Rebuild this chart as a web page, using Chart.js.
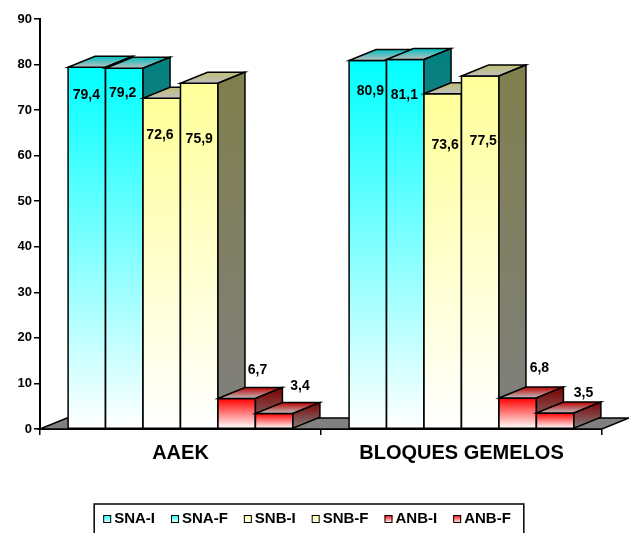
<!DOCTYPE html>
<html>
<head>
<meta charset="utf-8">
<script src="https://cdn.jsdelivr.net/npm/chart.js@4.4.1/dist/chart.umd.min.js"></script>
<style>
html,body{margin:0;padding:0;background:#fff;overflow:hidden;}
#wrap{width:629px;height:533px;position:relative;}
canvas{display:block;}
</style>
</head>
<body>
<div id="wrap"><canvas id="c" width="629" height="533"></canvas></div>
<script>
// ---------- data ----------
const categories = ['AAEK', 'BLOQUES GEMELOS'];
const seriesNames = ['SNA-I', 'SNA-F', 'SNB-I', 'SNB-F', 'ANB-I', 'ANB-F'];
const snaI = [79.4, 80.9];
const snaF = [79.2, 81.1];
const snbI = [72.6, 73.6];
const snbF = [75.9, 77.5];
const anbI = [6.7, 6.8];
const anbF = [3.4, 3.5];
const yTickValues = [0, 10, 20, 30, 40, 50, 60, 70, 80, 90];

// ---------- style ----------
const seriesValues = [snaI, snaF, snbI, snbF, anbI, anbF];
const topColors = ['#00FFFF', '#00FFFF', '#FFFF99', '#FFFF99', '#FF0000', '#FF0000'];
const bottomColor = '#FFFFFF';
// label offsets (pixels) relative to bar centre / bar top, per series per category
const labelDx = [[-0.5, 2.5], [-1.6, -1], [-1.8, 2.4], [0, 3], [20.8, 21.7], [25.8, 28.3]];
const labelDy = [[27.7, 30.6], [25.3, 35.5], [37, 51], [55.7, 65], [-28.5, -30.3], [-27.8, -20]];
const DEPTH_X = 27, DEPTH_Y = -11;
const FONT = "'Liberation Sans', Arial, Helvetica, sans-serif";

function shade(hex, f) {
  const n = parseInt(hex.slice(1), 16);
  const r = Math.round(((n >> 16) & 255) * f);
  const g = Math.round(((n >> 8) & 255) * f);
  const b = Math.round((n & 255) * f);
  return 'rgb(' + r + ',' + g + ',' + b + ')';
}
function fmt(v) { return v.toFixed(1).replace('.', ','); }

function drawBar3D(ctx, L, R, T, B, cTop) {
  ctx.lineWidth = 1.5;
  ctx.strokeStyle = '#000';
  ctx.lineJoin = 'miter';
  // front face
  let g = ctx.createLinearGradient(0, T, 0, B);
  g.addColorStop(0, cTop); g.addColorStop(1, bottomColor);
  ctx.fillStyle = g;
  ctx.beginPath(); ctx.rect(L, T, R - L, B - T); ctx.fill(); ctx.stroke();
  // top face
  g = ctx.createLinearGradient(0, T + DEPTH_Y, 0, T);
  g.addColorStop(0, shade(cTop, 0.75)); g.addColorStop(1, shade(bottomColor, 0.75));
  ctx.fillStyle = g;
  ctx.beginPath();
  ctx.moveTo(L, T); ctx.lineTo(L + DEPTH_X, T + DEPTH_Y);
  ctx.lineTo(R + DEPTH_X, T + DEPTH_Y); ctx.lineTo(R, T); ctx.closePath();
  ctx.fill(); ctx.stroke();
  // side face
  g = ctx.createLinearGradient(0, T + DEPTH_Y, 0, B);
  g.addColorStop(0, shade(cTop, 0.5)); g.addColorStop(1, shade(bottomColor, 0.5));
  ctx.fillStyle = g;
  ctx.beginPath();
  ctx.moveTo(R, T); ctx.lineTo(R + DEPTH_X, T + DEPTH_Y);
  ctx.lineTo(R + DEPTH_X, B + DEPTH_Y); ctx.lineTo(R, B); ctx.closePath();
  ctx.fill(); ctx.stroke();
}

const bars3d = {
  id: 'bars3d',
  beforeDatasetsDraw(chart) {
    const ctx = chart.ctx, area = chart.chartArea;
    const B = chart.scales.y.getPixelForValue(0);
    ctx.save();
    ctx.fillStyle = '#808080';
    ctx.strokeStyle = '#000';
    ctx.lineWidth = 1.5;
    ctx.beginPath();
    ctx.moveTo(area.left, B);
    ctx.lineTo(area.left + DEPTH_X, B + DEPTH_Y);
    ctx.lineTo(area.right + DEPTH_X, B + DEPTH_Y);
    ctx.lineTo(area.right, B);
    ctx.closePath();
    ctx.fill(); ctx.stroke();
    ctx.restore();
  },
  afterDatasetsDraw(chart) {
    const ctx = chart.ctx;
    ctx.save();
    const nCat = chart.data.labels.length;
    const nDs = chart.data.datasets.length;
    for (let j = 0; j < nCat; j++) {
      for (let i = 0; i < nDs; i++) {
        const el = chart.getDatasetMeta(i).data[j];
        const p = el.getProps(['x', 'y', 'base', 'width'], true);
        drawBar3D(ctx, p.x - p.width / 2, p.x + p.width / 2, p.y, p.base, topColors[i]);
      }
    }
    // data labels
    ctx.fillStyle = '#000';
    ctx.font = 'bold 14px ' + FONT;
    ctx.textAlign = 'center';
    ctx.textBaseline = 'middle';
    for (let i = 0; i < nDs; i++) {
      const meta = chart.getDatasetMeta(i);
      meta.data.forEach((el, j) => {
        const p = el.getProps(['x', 'y'], true);
        ctx.fillText(fmt(chart.data.datasets[i].data[j]), p.x + labelDx[i][j], p.y + labelDy[i][j]);
      });
    }
    ctx.restore();
  },
  afterDraw(chart) {
    // legend
    const ctx = chart.ctx;
    ctx.save();
    ctx.font = 'bold 15px ' + FONT;
    const box = 8, gap1 = 3, gap2 = 16;
    const widths = seriesNames.map(n => ctx.measureText(n).width);
    let total = 0;
    widths.forEach((w, k) => { total += box + gap1 + w + (k < widths.length - 1 ? gap2 : 0); });
    const centre = 307;
    let x = centre - total / 2;
    const yMid = 519;
    // frame
    ctx.strokeStyle = '#000';
    ctx.lineWidth = 1.5;
    ctx.strokeRect(x - 9, 504, total + 22, 40);
    ctx.textBaseline = 'middle';
    ctx.textAlign = 'left';
    seriesNames.forEach((n, k) => {
      const by = yMid - box / 2;
      const g = ctx.createLinearGradient(0, by, 0, by + box);
      g.addColorStop(0, topColors[k]); g.addColorStop(1, bottomColor);
      ctx.fillStyle = g;
      ctx.fillRect(x, by, box, box);
      ctx.lineWidth = 1;
      ctx.strokeRect(x + 0.5, by + 0.5, box - 1, box - 1);
      ctx.fillStyle = '#000';
      ctx.fillText(n, x + box + gap1, yMid);
      x += box + gap1 + widths[k] + gap2;
    });
    ctx.restore();
  }
};

const datasets = seriesNames.map((name, i) => ({
  label: name,
  data: seriesValues[i],
  backgroundColor: 'rgba(0,0,0,0)',
  borderWidth: 0
}));

new Chart(document.getElementById('c'), {
  type: 'bar',
  data: { labels: categories, datasets: datasets },
  options: {
    responsive: false,
    animation: false,
    devicePixelRatio: 1,
    categoryPercentage: 0.8,
    barPercentage: 1.0,
    layout: { padding: { left: 0, right: 27, top: 19, bottom: 0 } },
    plugins: { legend: { display: false }, tooltip: { enabled: false } },
    scales: {
      x: {
        z: 1,
        afterFit(s) { s.height = 104; },
        grid: { display: true, drawOnChartArea: false, tickLength: 6, color: '#000', lineWidth: 1.5, offset: true },
        border: { display: true, color: '#000', width: 2 },
        ticks: { color: '#000', font: { family: FONT, size: 20, weight: 'bold' }, padding: 6 }
      },
      y: {
        z: 1,
        min: yTickValues[0],
        max: yTickValues[yTickValues.length - 1],
        afterFit(s) { s.width = 40; },
        afterBuildTicks(s) { s.ticks = yTickValues.map(v => ({ value: v })); },
        grid: { display: true, drawOnChartArea: false, tickLength: 6, color: '#000', lineWidth: 1.5 },
        border: { display: true, color: '#000', width: 2 },
        ticks: { color: '#000', font: { family: FONT, size: 13, weight: 'bold' }, padding: 2 }
      }
    }
  },
  plugins: [bars3d]
});
</script>
</body>
</html>
